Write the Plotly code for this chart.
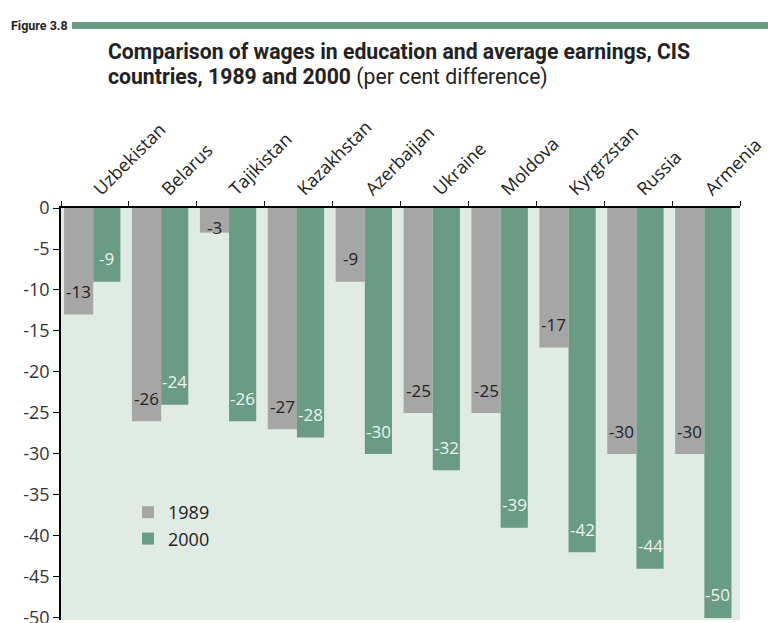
import plotly.graph_objects as go

# Per cent difference between wages in education and average earnings
countries = ["Uzbekistan", "Belarus", "Tajikistan", "Kazakhstan", "Azerbaijan",
             "Ukraine", "Moldova", "Kyrgrzstan", "Russia", "Armenia"]
values_1989 = [-13, -26, -3, -27, -9, -25, -25, -17, -30, -30]
values_2000 = [-9, -24, -26, -28, -30, -32, -39, -42, -44, -50]
y_ticks = [0, -5, -10, -15, -20, -25, -30, -35, -40, -45, -50]

GREY = "#a6a6a6"
GREEN = "#6a9b84"
BG = "#e0ebe4"
FONT = "Open Sans"
TITLE_FONT = "Roboto"

W, H = 768, 623
ML, MR, MT, MB = 61, 28, 208, 3
Y_MIN = -50.25
plot_w = W - ML - MR
plot_h = H - MT - MB
cat_px = plot_w / len(countries)

# bar geometry (fractions of a category slot)
g_off, g_w = -0.455, 0.43
n_off, n_w = -0.025, 0.40

fig = go.Figure()
fig.add_trace(go.Bar(x=countries, y=values_1989, name="1989", marker_color=GREY,
                     offset=g_off, width=g_w, marker_line_width=0))
fig.add_trace(go.Bar(x=countries, y=values_2000, name="2000", marker_color=GREEN,
                     offset=n_off, width=n_w, marker_line_width=0))

def px_x(px):
    return (px - ML) / plot_w

def px_y(py):
    return (H - MB - py) / plot_h

annotations = []
# value labels near the end of each bar
for series, off, wid, col in [(values_1989, g_off, g_w, "#222222"),
                              (values_2000, n_off, n_w, "#eef3ef")]:
    for c, v in zip(countries, series):
        annotations.append(dict(
            x=c, y=min(v + 2.8, -2.4), xref="x", yref="y",
            text=str(v), showarrow=False, xanchor="center", yanchor="middle",
            xshift=(off + wid / 2) * cat_px,
            font=dict(family=FONT, size=17, color=col)))

annotations.append(dict(
    x=px_x(9), y=px_y(25), xref="paper", yref="paper",
    text="<b>Figure 3.8</b>", showarrow=False, xanchor="left", yanchor="middle",
    font=dict(family=TITLE_FONT, size=12.5, color="#222222")))
annotations.append(dict(
    x=px_x(106), y=px_y(52), xref="paper", yref="paper",
    text="<b>Comparison of wages in education and average earnings, CIS</b>",
    showarrow=False, xanchor="left", yanchor="middle",
    font=dict(family=TITLE_FONT, size=21.2, color="#222222")))
annotations.append(dict(
    x=px_x(106), y=px_y(77), xref="paper", yref="paper",
    text="<b>countries, 1989 and 2000</b> (per cent difference)",
    showarrow=False, xanchor="left", yanchor="middle",
    font=dict(family=TITLE_FONT, size=21.2, color="#222222")))

shapes = [dict(type="rect", xref="paper", yref="paper",
               x0=px_x(72), x1=px_x(768), y0=px_y(29), y1=px_y(22),
               fillcolor=GREEN, line_width=0, layer="above")]

fig.update_layout(
    width=W, height=H,
    margin=dict(l=ML, r=MR, t=MT, b=MB, autoexpand=False),
    paper_bgcolor="white", plot_bgcolor=BG,
    barmode="group", showlegend=True,
    legend=dict(x=px_x(128), y=px_y(494), xanchor="left", yanchor="top",
                bgcolor="rgba(0,0,0,0)", font=dict(family=FONT, size=18, color="#222222"),
                itemwidth=30, tracegroupgap=0),
    annotations=annotations, shapes=shapes,
    font=dict(family=FONT, color="#222222"),
)
fig.update_xaxes(side="top", tickangle=-45, showline=True, linecolor="black",
                 linewidth=1.5, ticks="outside", tickson="boundaries", ticklen=5,
                 tickcolor="black", showgrid=False,
                 tickfont=dict(family=FONT, size=18, color="#222222"))
fig.update_yaxes(range=[Y_MIN, 0], tickvals=y_ticks, ticktext=[str(t) for t in y_ticks],
                 showline=True, linecolor="black", linewidth=1.5, ticks="outside",
                 ticklen=6, tickcolor="black", showgrid=False, zeroline=False,
                 ticklabeloverflow="allow",
                 tickfont=dict(family=FONT, size=18, color="#333333"))

fig.write_html("out.html")
